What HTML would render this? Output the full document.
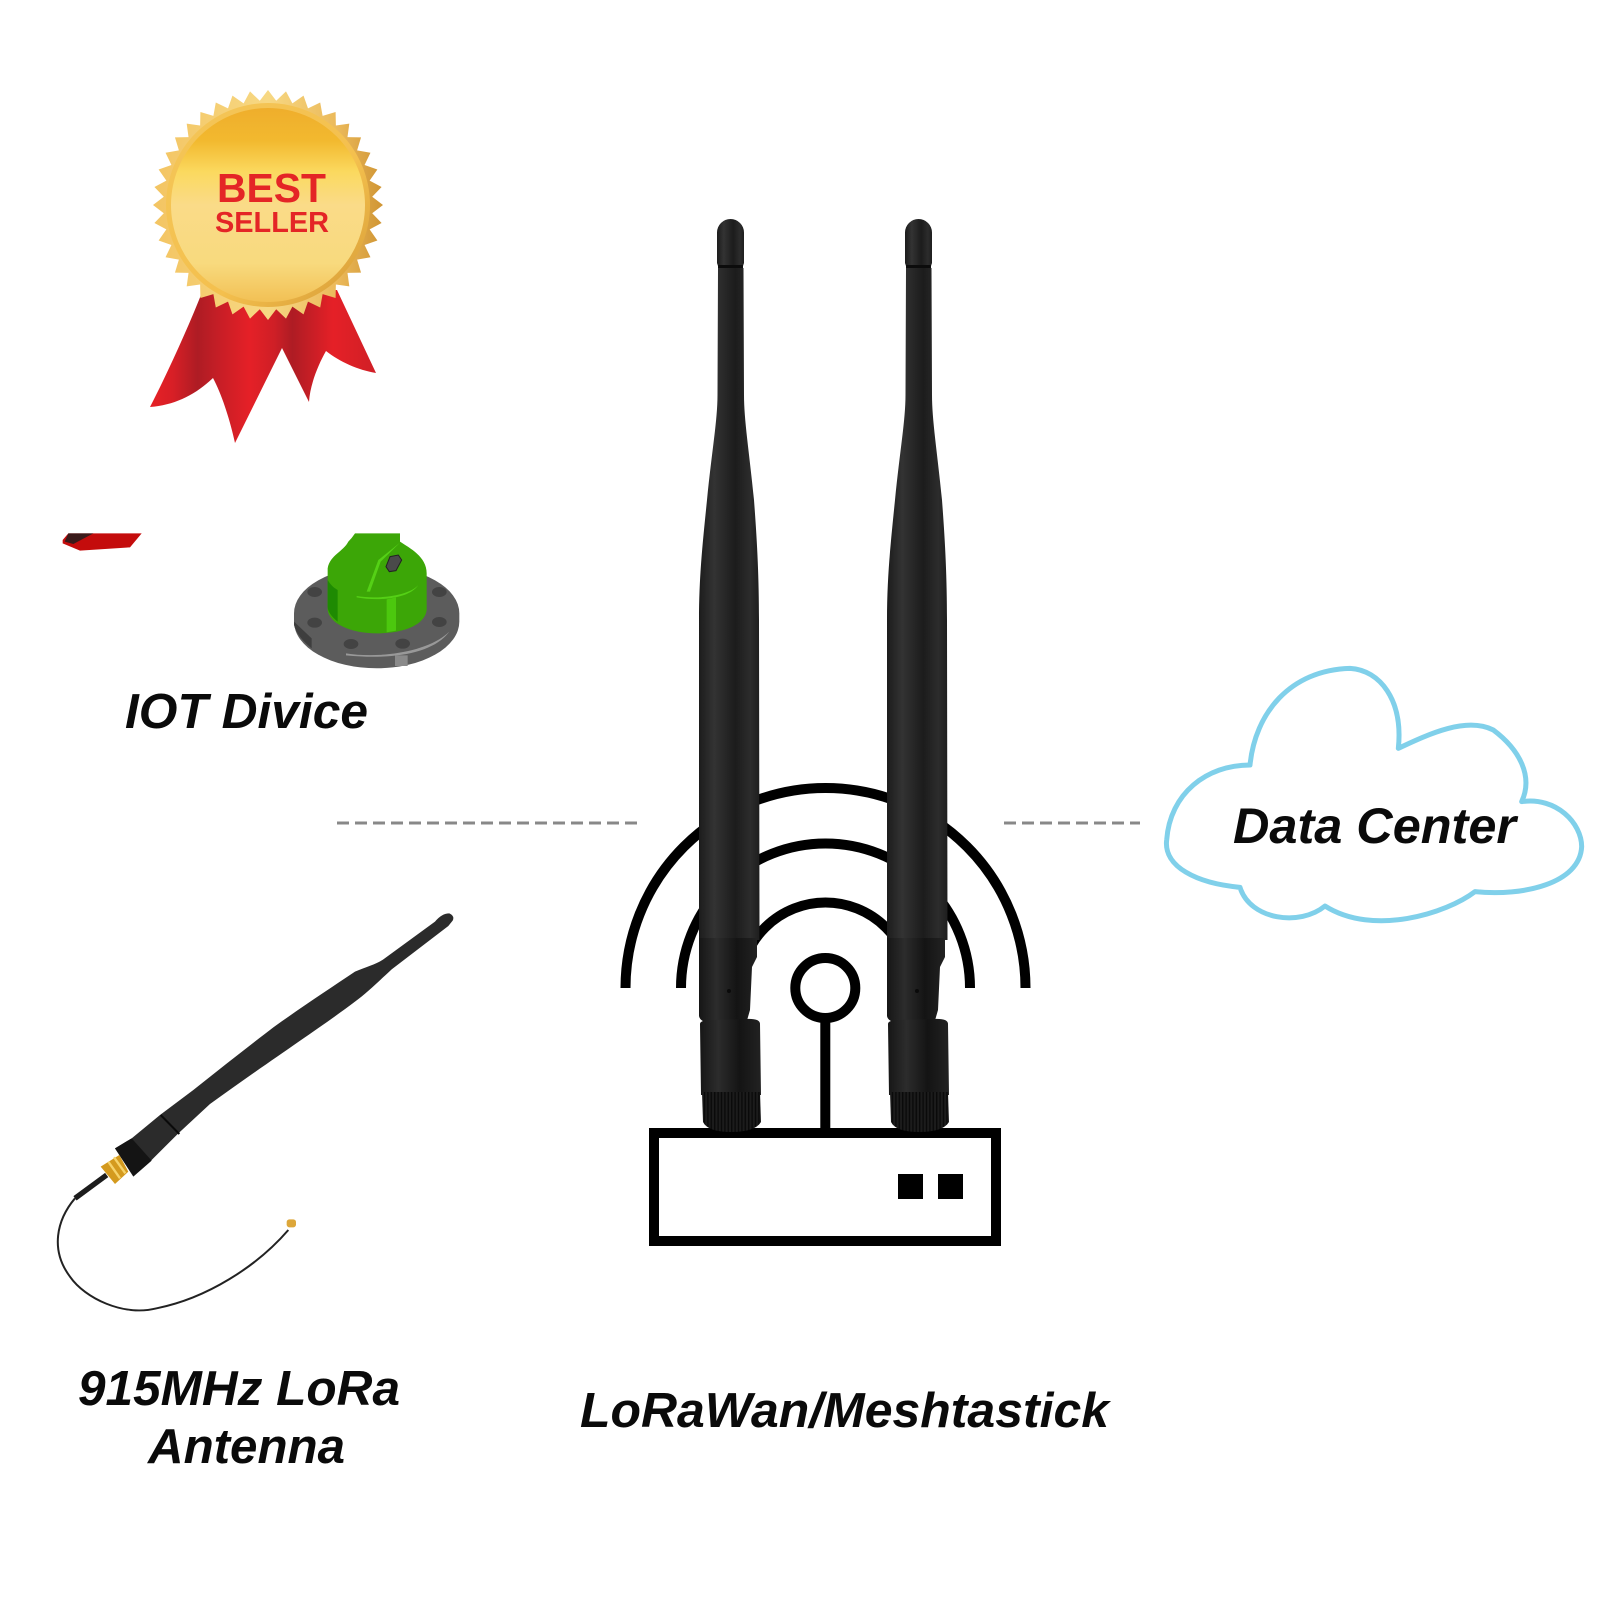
<!DOCTYPE html>
<html><head><meta charset="utf-8"><style>html,body{margin:0;padding:0;background:#fff}svg{display:block}text{font-family:"Liberation Sans",Arial,sans-serif;font-weight:bold}</style></head>
<body>
<svg xmlns="http://www.w3.org/2000/svg" width="1600" height="1600" viewBox="0 0 1600 1600">
<defs>
<linearGradient id="ant" x1="0" x2="1" y1="0" y2="0"><stop offset="0" stop-color="#1c1c1c"/><stop offset=".25" stop-color="#333"/><stop offset=".6" stop-color="#1c1c1c"/><stop offset=".85" stop-color="#2c2c2c"/><stop offset="1" stop-color="#1e1e1e"/></linearGradient>
<linearGradient id="ant2" x1="0" x2="1" y1="0" y2="0"><stop offset="0" stop-color="#161616"/><stop offset=".3" stop-color="#2c2c2c"/><stop offset=".65" stop-color="#141414"/><stop offset="1" stop-color="#222"/></linearGradient>
<pattern id="knurl" patternUnits="userSpaceOnUse" width="3.4" height="10"><rect width="3.4" height="10" fill="#1c1c1c"/><rect width="1.4" height="10" fill="#0a0a0a"/></pattern>
<linearGradient id="teeth" x1="0" x2="1" y1="0" y2="0"><stop offset="0" stop-color="#F3C462"/><stop offset=".5" stop-color="#F7D883"/><stop offset=".8" stop-color="#EBB95A"/><stop offset="1" stop-color="#CF9433"/></linearGradient>
<linearGradient id="ring" x1="0" x2="1" y1="0" y2="1"><stop offset="0" stop-color="#F4C658"/><stop offset=".6" stop-color="#F4C04E"/><stop offset="1" stop-color="#D59A35"/></linearGradient>
<linearGradient id="face" x1="0" x2="0" y1="0" y2="1"><stop offset="0" stop-color="#EFAE2C"/><stop offset=".17" stop-color="#F2B92F"/><stop offset=".33" stop-color="#FBD95F"/><stop offset=".5" stop-color="#FADB88"/><stop offset=".8" stop-color="#F8DA7E"/><stop offset="1" stop-color="#F2C054"/></linearGradient>
<linearGradient id="rib" gradientUnits="userSpaceOnUse" x1="150" x2="376" y1="0" y2="0"><stop offset="0" stop-color="#E62025"/><stop offset=".1" stop-color="#D81F26"/><stop offset=".21" stop-color="#AE1C24"/><stop offset=".3" stop-color="#C51E26"/><stop offset=".44" stop-color="#E52027"/><stop offset=".55" stop-color="#CF1F26"/><stop offset=".63" stop-color="#AE1C24"/><stop offset=".81" stop-color="#E52027"/><stop offset="1" stop-color="#D01F26"/></linearGradient>
<clipPath id="star"><circle cx="0" cy="0" r="104.500"/>
<polygon points="0,-115 8.2,-104.200 8.2,104.200 0,115 -8.2,104.200 -8.2,-104.200"/>
<polygon transform="rotate(9)" points="0,-115 8.2,-104.200 8.2,104.200 0,115 -8.2,104.200 -8.2,-104.200"/>
<polygon transform="rotate(18)" points="0,-115 8.2,-104.200 8.2,104.200 0,115 -8.2,104.200 -8.2,-104.200"/>
<polygon transform="rotate(27)" points="0,-115 8.2,-104.200 8.2,104.200 0,115 -8.2,104.200 -8.2,-104.200"/>
<polygon transform="rotate(36)" points="0,-115 8.2,-104.200 8.2,104.200 0,115 -8.2,104.200 -8.2,-104.200"/>
<polygon transform="rotate(45)" points="0,-115 8.2,-104.200 8.2,104.200 0,115 -8.2,104.200 -8.2,-104.200"/>
<polygon transform="rotate(54)" points="0,-115 8.2,-104.200 8.2,104.200 0,115 -8.2,104.200 -8.2,-104.200"/>
<polygon transform="rotate(63)" points="0,-115 8.2,-104.200 8.2,104.200 0,115 -8.2,104.200 -8.2,-104.200"/>
<polygon transform="rotate(72)" points="0,-115 8.2,-104.200 8.2,104.200 0,115 -8.2,104.200 -8.2,-104.200"/>
<polygon transform="rotate(81)" points="0,-115 8.2,-104.200 8.2,104.200 0,115 -8.2,104.200 -8.2,-104.200"/>
<polygon transform="rotate(90)" points="0,-115 8.2,-104.200 8.2,104.200 0,115 -8.2,104.200 -8.2,-104.200"/>
<polygon transform="rotate(99)" points="0,-115 8.2,-104.200 8.2,104.200 0,115 -8.2,104.200 -8.2,-104.200"/>
<polygon transform="rotate(108)" points="0,-115 8.2,-104.200 8.2,104.200 0,115 -8.2,104.200 -8.2,-104.200"/>
<polygon transform="rotate(117)" points="0,-115 8.2,-104.200 8.2,104.200 0,115 -8.2,104.200 -8.2,-104.200"/>
<polygon transform="rotate(126)" points="0,-115 8.2,-104.200 8.2,104.200 0,115 -8.2,104.200 -8.2,-104.200"/>
<polygon transform="rotate(135)" points="0,-115 8.2,-104.200 8.2,104.200 0,115 -8.2,104.200 -8.2,-104.200"/>
<polygon transform="rotate(144)" points="0,-115 8.2,-104.200 8.2,104.200 0,115 -8.2,104.200 -8.2,-104.200"/>
<polygon transform="rotate(153)" points="0,-115 8.2,-104.200 8.2,104.200 0,115 -8.2,104.200 -8.2,-104.200"/>
<polygon transform="rotate(162)" points="0,-115 8.2,-104.200 8.2,104.200 0,115 -8.2,104.200 -8.2,-104.200"/>
<polygon transform="rotate(171)" points="0,-115 8.2,-104.200 8.2,104.200 0,115 -8.2,104.200 -8.2,-104.200"/>
</clipPath>
<g id="antenna">
<path d="M717,232.500 A13.500,13.500 0 0 1 744,232.500 L744,263 L743,266 L718,266 L717,263 Z" fill="url(#ant)"/>
<rect x="718" y="265" width="25" height="3" fill="#0c0c0c"/>
<path d="M718,268 L743.500,268 L744,395 C744,420 749,450 754,500 C757,540 759,575 759,620 L759.500,940 L699,940 L699,620 C699,575 703,540 707,500 C712,450 717.500,420 717.500,395 Z" fill="url(#ant)"/>
<path d="M699,938 L757,938 L757,957 L752,967 L750,1010 L746,1024 L712,1024 Q700,1022 699,1016 Z" fill="url(#ant2)"/>
<circle cx="729" cy="991" r="2" fill="#0a0a0a"/>
<path d="M700,1024 Q700,1020 712,1020 L745,1019 Q760,1018 760,1024 L761,1095 L701,1095 Z" fill="url(#ant2)"/>
<path d="M702,1092 L760,1092 L761,1122 Q755,1132 731,1132 Q708,1132 703,1122 Z" fill="url(#knurl)"/>
</g>
</defs>
<rect width="1600" height="1600" fill="#fff"/>

<!-- badge -->
<path d="M203,290 C188,328 168,372 150,407 C175,405 195,395 213,378 C222,395 230,420 235,443 L282,348 L309,402 C310,385 318,365 326,351 C340,362 358,370 376,373 L337,290 Z" fill="url(#rib)"/>
<g transform="translate(268,205)"><rect x="-116" y="-116" width="232" height="232" fill="url(#teeth)" clip-path="url(#star)"/>
<circle r="102" fill="url(#ring)"/><circle r="97" fill="url(#face)"/></g>
<text x="217" y="202" font-size="41" fill="#E42526" textLength="109" lengthAdjust="spacingAndGlyphs">BEST</text>
<text x="215" y="232" font-size="29" fill="#E42526" textLength="114" lengthAdjust="spacingAndGlyphs">SELLER</text>

<!-- IoT device -->
<g transform="translate(40,510) scale(.33333)">
<polygon points="85,70 305,70 270,112 120,122 68,100 68,90" fill="#C40C0C"/>
<polygon points="85,70 160,70 100,102 74,95" fill="#3a1a1a"/>
<path d="M762,310 A248,140 0 0 1 1258,310 L1258,335 A248,140 0 0 1 762,335 Z" fill="#5C5C5C"/>
<path d="M762,335 L815,385 L815,415 C790,395 768,370 762,345 Z" fill="#3e3e3e"/>
<path d="M918,430 C1010,445 1160,430 1228,365 C1180,430 1060,450 918,436 Z" fill="#999"/>
<rect x="1065" y="436" width="38" height="32" fill="#8a8a8a"/>
<g fill="#434343"><ellipse cx="824" cy="246" rx="22" ry="15"/><ellipse cx="824" cy="338" rx="22" ry="15"/><ellipse cx="933" cy="402" rx="22" ry="15"/><ellipse cx="1088" cy="401" rx="22" ry="15"/><ellipse cx="1198" cy="336" rx="22" ry="15"/><ellipse cx="1198" cy="246" rx="22" ry="15"/></g>
<path d="M945,70 L1080,70 L1080,95 C1110,115 1160,140 1160,190 L1160,300 C1155,345 1090,370 1012,370 C930,370 868,340 863,300 L863,175 C870,135 910,125 925,95 Q935,85 945,70 Z" fill="#3CA607"/>
<path d="M863,210 C875,230 885,235 893,240 L893,335 C875,320 863,305 863,290 Z" fill="#1E8A02"/>
<path d="M1040,268 L1068,262 L1068,362 L1040,367 Z" fill="#4CC80E"/>
<path d="M980,245 L1015,150 L1080,98 L1022,155 L990,245 Z M950,258 C1020,270 1110,255 1135,225 C1110,265 1020,275 950,262 Z" fill="#55D016"/>
<polygon points="1050,140 1075,135 1085,150 1068,182 1048,185 1038,170" fill="#4a4a4a" stroke="#222" stroke-width="3"/>
</g>
<text x="125" y="728" font-size="49" font-style="italic" fill="#0a0a0a" textLength="243" lengthAdjust="spacingAndGlyphs">IOT Divice</text>

<!-- left long antenna -->
<g transform="translate(40,900) scale(.33333)">
<path d="M105,895 C50,960 30,1050 90,1130 C135,1195 250,1250 350,1225 C500,1195 650,1100 745,990" fill="none" stroke="#222" stroke-width="6"/>
<path d="M105,895 L200,825" stroke="#1c1c1c" stroke-width="16" fill="none"/>
<path d="M1185,65 Q1205,40 1228,40 Q1245,48 1238,62 L1225,78 L1055,208 C1015,245 985,275 945,305 C860,370 700,475 510,612 L415,700 L330,785 L280,828 L225,745 L275,715 L360,645 L460,570 C560,490 640,428 700,382 C780,325 870,265 945,215 C980,200 1010,192 1030,178 Z" fill="#2b2b2b"/>
<path d="M362,645 L418,702" stroke="#0a0a0a" stroke-width="6"/>
<path d="M275,715 L335,782 L280,830 L225,745 Z" fill="#141414"/>
<path d="M238,765 L265,815 L225,852 L182,800 Z" fill="#D49A1E"/>
<path d="M205,785 L240,835 M222,772 L256,820" stroke="#F6D36A" stroke-width="7"/>
<rect x="740" y="958" width="28" height="24" rx="8" fill="#DDA73A"/>
</g>

<!-- wifi arcs -->
<g fill="none" stroke="#000" stroke-width="10">
<path d="M625.500,988 A200,200 0 0 1 1025.500,988"/>
<path d="M681,988 A144.500,144.500 0 0 1 970,988"/>
<path d="M740,988 A85.500,85.500 0 0 1 911,988"/>
<circle cx="825.300" cy="988" r="30"/>
<path d="M825.300,1018 L825.300,1133"/>
<rect x="654" y="1133" width="342" height="108"/>
</g>
<rect x="898" y="1174" width="25" height="25"/>
<rect x="938" y="1174" width="25" height="25"/>

<use href="#antenna"/>
<use href="#antenna" x="188"/>

<!-- dashes -->
<path d="M337,823 L638,823" stroke="#888" stroke-width="3" stroke-dasharray="12 6" fill="none"/>
<path d="M1004,823 L1140,823" stroke="#888" stroke-width="3" stroke-dasharray="12 6" fill="none"/>

<!-- cloud -->
<path transform="translate(1140,650) scale(.33333)" d="M330,345 C345,190 450,60 630,55 C720,60 790,150 775,295 C870,250 980,200 1060,240 C1140,300 1180,380 1145,455 C1250,440 1325,520 1325,590 C1320,700 1150,740 1005,725 C920,790 700,860 555,768 C480,830 330,810 300,712 C170,700 70,650 80,570 C90,430 200,345 330,345 Z" fill="#fff" stroke="#80D0EA" stroke-width="15" stroke-linejoin="round"/>
<text x="1233" y="843" font-size="50" font-style="italic" fill="#0a0a0a" textLength="283" lengthAdjust="spacingAndGlyphs">Data Center</text>

<text x="78" y="1405" font-size="49" font-style="italic" fill="#0a0a0a" textLength="322" lengthAdjust="spacingAndGlyphs">915MHz LoRa</text>
<text x="148" y="1463" font-size="49" font-style="italic" fill="#0a0a0a" textLength="197" lengthAdjust="spacingAndGlyphs">Antenna</text>
<text x="580" y="1427" font-size="49" font-style="italic" fill="#0a0a0a" textLength="529" lengthAdjust="spacingAndGlyphs">LoRaWan/Meshtastick</text>
</svg>
</body></html>
